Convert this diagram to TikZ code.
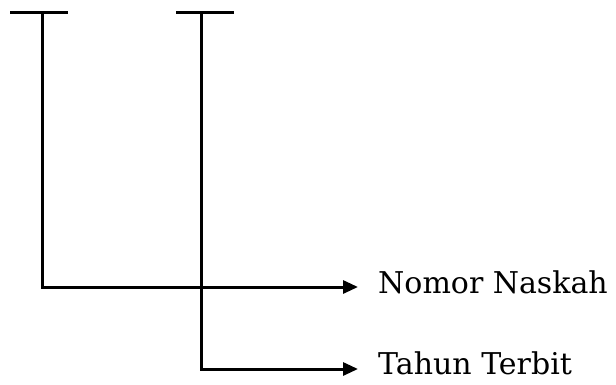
\documentclass[tikz,border=0pt]{standalone}
\usepackage{fontspec}
\setmainfont{DejaVu Serif}
\usetikzlibrary{arrows.meta}
\begin{document}
\begin{tikzpicture}[x=1pt,y=-1pt,
  ln/.style={line width=3pt,black},
  arr/.style={ln,-{Triangle[length=15pt,width=13pt]}},
  lbl/.style={anchor=base west,inner sep=0pt,font=\fontsize{30}{34}\selectfont}]
\useasboundingbox (0,0) rectangle (616,384);
\coordinate (t1l) at (10,12);
\coordinate (t1r) at (68,12);
\coordinate (t1) at (42,12);
\coordinate (c1) at (42,287);
\coordinate (e1) at (358,287);
\coordinate (t2l) at (176,12);
\coordinate (t2r) at (234,12);
\coordinate (t2) at (201,12);
\coordinate (c2) at (201,369);
\coordinate (e2) at (358,369);
\node[lbl] (n1) at (378,293) {Nomor Naskah};
\node[lbl] (n2) at (378,374) {Tahun Terbit};
\draw[ln] (t1l) -- (t1r);
\draw[ln] (t2l) -- (t2r);
\draw[arr] (t1) -- (c1) -- (e1);
\draw[arr] (t2) -- (c2) -- (e2);
\end{tikzpicture}
\end{document}
